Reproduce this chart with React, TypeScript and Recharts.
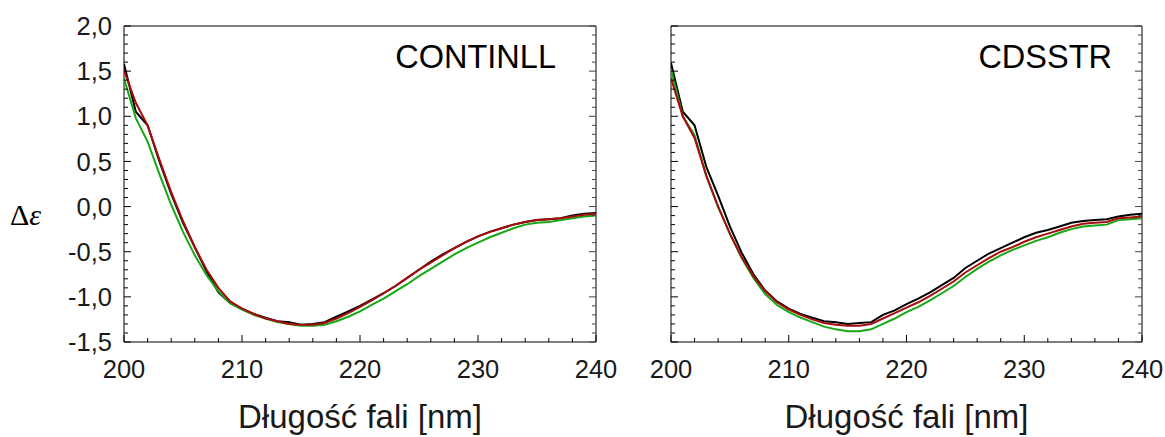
import React from "react";
import { LineChart, Line, XAxis, YAxis, ReferenceArea } from "recharts";

// wavelength grid [nm]
const wavelengths = [
  200, 201, 202, 203, 204, 205, 206, 207, 208, 209, 210, 211, 212, 213, 214, 215, 216, 217, 218, 219, 220,
  221, 222, 223, 224, 225, 226, 227, 228, 229, 230, 231, 232, 233, 234, 235, 236, 237, 238, 239, 240,
];

// CONTINLL panel
const contBlack = [
  1.58, 1.05, 0.9, 0.5, 0.14, -0.18, -0.45, -0.72, -0.95, -1.07, -1.13, -1.19, -1.23, -1.27, -1.28, -1.31,
  -1.3, -1.28, -1.22, -1.16, -1.1, -1.03, -0.96, -0.88, -0.79, -0.7, -0.61, -0.53, -0.46, -0.39, -0.33,
  -0.28, -0.24, -0.2, -0.17, -0.15, -0.14, -0.13, -0.1, -0.08, -0.07,
];
const contRed = [
  1.51, 1.15, 0.9, 0.52, 0.16, -0.16, -0.45, -0.7, -0.9, -1.05, -1.13, -1.19, -1.24, -1.27, -1.3, -1.31,
  -1.31, -1.29, -1.24, -1.18, -1.11, -1.04, -0.96, -0.88, -0.79, -0.7, -0.62, -0.54, -0.46, -0.39, -0.33,
  -0.28, -0.24, -0.2, -0.17, -0.15, -0.14, -0.13, -0.11, -0.09, -0.08,
];
const contGreen = [
  1.42, 0.98, 0.72, 0.36, 0.02, -0.28, -0.54, -0.76, -0.94, -1.07, -1.14, -1.2, -1.24, -1.28, -1.3, -1.32,
  -1.32, -1.31, -1.27, -1.22, -1.16, -1.09, -1.02, -0.94, -0.86, -0.77, -0.69, -0.61, -0.53, -0.46, -0.4,
  -0.34, -0.29, -0.24, -0.2, -0.18, -0.17, -0.15, -0.13, -0.11, -0.1,
];

// CDSSTR panel
const cdsBlack = [
  1.59, 1.05, 0.9, 0.44, 0.12, -0.22, -0.51, -0.75, -0.93, -1.05, -1.13, -1.19, -1.23, -1.27, -1.28, -1.3,
  -1.29, -1.28, -1.2, -1.15, -1.08, -1.02, -0.95, -0.87, -0.79, -0.68, -0.6, -0.52, -0.46, -0.4, -0.34,
  -0.29, -0.26, -0.22, -0.18, -0.16, -0.15, -0.14, -0.11, -0.09, -0.08,
];
const cdsRed = [
  1.42, 1.0, 0.76, 0.34, 0.0, -0.3, -0.56, -0.77, -0.94, -1.06, -1.14, -1.2, -1.25, -1.29, -1.31, -1.32,
  -1.32, -1.3, -1.24, -1.18, -1.12, -1.06, -0.99, -0.91, -0.83, -0.73, -0.65, -0.57, -0.5, -0.45, -0.39,
  -0.34, -0.3, -0.26, -0.22, -0.19, -0.18, -0.17, -0.13, -0.12, -0.11,
];
const cdsGreen = [
  1.52, 1.0, 0.79, 0.34, 0.0, -0.3, -0.57, -0.79, -0.97, -1.09, -1.17, -1.23, -1.28, -1.33, -1.36, -1.38,
  -1.38, -1.36, -1.3, -1.24, -1.17, -1.11, -1.04, -0.96, -0.88, -0.78, -0.69, -0.61, -0.54, -0.48, -0.43,
  -0.38, -0.34, -0.29, -0.25, -0.22, -0.21, -0.2, -0.15, -0.14, -0.13,
];

const xTicks = [200, 202, 204, 206, 208, 210, 212, 214, 216, 218, 220, 222, 224, 226, 228, 230, 232, 234, 236, 238, 240];
const yTicks = [
  -1.5, -1.4, -1.3, -1.2, -1.1, -1.0, -0.9, -0.8, -0.7, -0.6, -0.5, -0.4, -0.3, -0.2, -0.1, 0.0,
  0.1, 0.2, 0.3, 0.4, 0.5, 0.6, 0.7, 0.8, 0.9, 1.0, 1.1, 1.2, 1.3, 1.4, 1.5, 1.6, 1.7, 1.8, 1.9, 2.0,
];

const FONT = "'Liberation Sans', Arial, sans-serif";
const TEXT = "#1a1a1a";

const toRows = (black: number[], red: number[], green: number[]) =>
  wavelengths.map((wl, i) => ({ wl, black: black[i], red: red[i], green: green[i] }));

const fmt = (v: number) => v.toFixed(1).replace(".", ",");

function YTick(props: any) {
  const { x, y, payload, plotWidth, showLabel } = props;
  const v = payload.value;
  const major = Math.abs(v * 2 - Math.round(v * 2)) < 1e-6;
  const len = major ? 7 : 4;
  return (
    <g>
      <line x1={x} x2={x + len} y1={y} y2={y} stroke="#000" />
      <line x1={x + plotWidth} x2={x + plotWidth - len} y1={y} y2={y} stroke="#444" />
      {showLabel && major && (
        <text x={x - 12} y={y} dy="0.36em" textAnchor="end" fontSize={25.5} fill={TEXT} fontFamily={FONT}>
          {fmt(v)}
        </text>
      )}
    </g>
  );
}

function XTick(props: any) {
  const { x, y, payload } = props;
  const v = payload.value;
  const major = v % 10 === 0;
  const len = major ? 7 : 4;
  return (
    <g>
      <line x1={x} x2={x} y1={y} y2={y - len} stroke="#000" />
      {major && (
        <text x={x} y={y + 36} textAnchor="middle" fontSize={25.5} fill={TEXT} fontFamily={FONT}>
          {v}
        </text>
      )}
    </g>
  );
}

interface PanelProps {
  rows: ReturnType<typeof toRows>;
  title: string;
  width: number;
  axisWidth: number;
  rightMargin: number;
  plotWidth: number;
  titleInset: number;
  showYLabels: boolean;
}

function Panel({ rows, title, width, axisWidth, rightMargin, plotWidth, titleInset, showYLabels }: PanelProps) {
  return (
    <LineChart width={width} height={437} data={rows} margin={{ top: 26, right: rightMargin, bottom: 0, left: 0 }}>
      <XAxis
        dataKey="wl"
        type="number"
        domain={[200, 240]}
        ticks={xTicks}
        interval={0}
        height={95}
        tickSize={0}
        tickMargin={0}
        axisLine={false}
        tickLine={false}
        tick={(p: any) => <XTick {...p} />}
        allowDataOverflow
        label={(p: any) => {
          const vb = p.viewBox;
          return (
            <text x={vb.x + vb.width / 2} y={vb.y + 86} textAnchor="middle" fontSize={33} fill={TEXT} fontFamily={FONT}>
              Długość fali [nm]
            </text>
          );
        }}
      />
      <YAxis
        type="number"
        domain={[-1.5, 2]}
        ticks={yTicks}
        interval={0}
        width={axisWidth}
        tickSize={0}
        tickMargin={0}
        axisLine={false}
        tickLine={false}
        allowDataOverflow
        tick={(p: any) => <YTick {...p} plotWidth={plotWidth} showLabel={showYLabels} />}
        label={
          showYLabels
            ? (p: any) => {
                const vb = p.viewBox;
                return (
                  <text x={vb.x + 10} y={225} fontSize={30} fill="#000" fontFamily="'Liberation Serif', 'Times New Roman', serif">
                    <tspan>Δ</tspan>
                    <tspan fontStyle="italic">ε</tspan>
                  </text>
                );
              }
            : undefined
        }
      />
      <ReferenceArea
        x1={200}
        x2={240}
        y1={-1.5}
        y2={2}
        fill="none"
        fillOpacity={0}
        stroke="#000"
        strokeWidth={1}
        ifOverflow="visible"
        label={(p: any) => {
          const vb = p.viewBox;
          return (
            <text x={vb.x + vb.width - titleInset} y={vb.y + 42} textAnchor="end" fontSize={32.5} fill="#000" fontFamily={FONT}>
              {title}
            </text>
          );
        }}
      />
      <Line type="linear" dataKey="black" stroke="#000000" strokeWidth={2} dot={false} isAnimationActive={false} />
      <Line type="linear" dataKey="green" stroke="#14a814" strokeWidth={2} dot={false} isAnimationActive={false} />
      <Line type="linear" dataKey="red" stroke="#a80c0c" strokeWidth={2} dot={false} isAnimationActive={false} />
    </LineChart>
  );
}

export default function App() {
  return (
    <div style={{ position: "absolute", left: 0, top: 0, width: 1165, height: 437, background: "#fff" }}>
      <div style={{ position: "absolute", left: 0, top: 0 }}>
        <Panel
          rows={toRows(contBlack, contRed, contGreen)}
          title="CONTINLL"
          width={640}
          axisWidth={124}
          rightMargin={44}
          plotWidth={472}
          titleInset={40}
          showYLabels
        />
      </div>
      <div style={{ position: "absolute", left: 640, top: 0 }}>
        <Panel
          rows={toRows(cdsBlack, cdsRed, cdsGreen)}
          title="CDSSTR"
          width={525}
          axisWidth={31}
          rightMargin={23}
          plotWidth={471}
          titleInset={30}
          showYLabels={false}
        />
      </div>
    </div>
  );
}
